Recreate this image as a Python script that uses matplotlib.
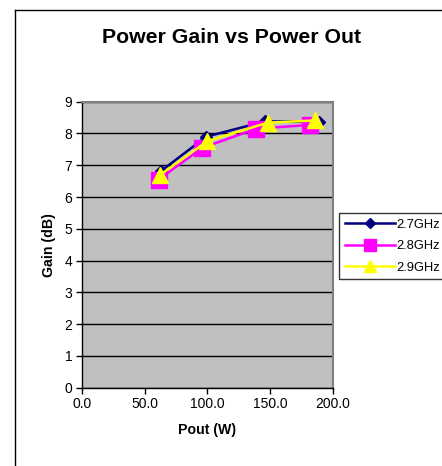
import matplotlib
matplotlib.use('Agg')
import matplotlib.pyplot as plt
from matplotlib.lines import Line2D

plt.rcParams['font.family'] = ['Liberation Sans', 'DejaVu Sans']

# Data
pout_27 = [63, 99, 146, 189]
gain_27 = [6.82, 7.90, 8.38, 8.37]
pout_28 = [61, 96, 139, 182]
gain_28 = [6.55, 7.55, 8.15, 8.27]
pout_29 = [62, 100, 148, 186]
gain_29 = [6.69, 7.76, 8.34, 8.41]
labels = ['2.7GHz', '2.8GHz', '2.9GHz']
xticks = [0, 50, 100, 150, 200]
yticks = list(range(0, 10))

fig = plt.figure(figsize=(4.42, 4.66), dpi=100)
ax = fig.add_axes([0.1855, 0.168, 0.5679, 0.6138])
ax.set_facecolor('#C0C0C0')

ax.plot(pout_27, gain_27, color='#000080', lw=1.8, marker='D', ms=6.5,
        label=labels[0], zorder=3)
ax.plot(pout_28, gain_28, color='#FF00FF', lw=1.8, marker='s', ms=11.5,
        label=labels[1], zorder=4)
ax.plot(pout_29, gain_29, color='#FFFF00', lw=1.8, marker='^', ms=12,
        label=labels[2], zorder=5)

ax.set_xlim(0, 200)
ax.set_ylim(0, 9)
ax.set_xticks(xticks)
ax.set_xticklabels(['%.1f' % v for v in xticks])
ax.set_yticks(yticks)
ax.yaxis.grid(True, color='black', lw=1)
ax.set_axisbelow(True)
ax.tick_params(labelsize=10, length=4, width=1, color='black', pad=3)

for s in ['top', 'right']:
    ax.spines[s].set_color('#808080')
    ax.spines[s].set_linewidth(1.5)
for s in ['left', 'bottom']:
    ax.spines[s].set_color('black')
    ax.spines[s].set_linewidth(1)

ax.set_xlabel('Pout (W)', fontsize=10.2, fontweight='bold', labelpad=8)
ax.set_ylabel('Gain (dB)', fontsize=10.2, fontweight='bold', labelpad=6)

fig.text(0.525, 0.919, 'Power Gain vs Power Out', ha='center', va='center',
         fontsize=15.3, fontweight='bold')

# outer chart frame (left and top edges visible)
fig.add_artist(Line2D([15 / 442, 15 / 442], [0, 1 - 10 / 466], color='black', lw=1))
fig.add_artist(Line2D([15 / 442, 1], [1 - 10 / 466, 1 - 10 / 466], color='black', lw=1))

leg = fig.legend(loc='upper left', bbox_to_anchor=(339 / 442, 1 - 213 / 466),
                 fontsize=9.3, frameon=True, fancybox=False, handlelength=3.9,
                 borderpad=0.45, labelspacing=0.72, handletextpad=0.1,
                 borderaxespad=0)
leg.get_frame().set_edgecolor('black')
leg.get_frame().set_linewidth(1)
for h in leg.legend_handles:
    h.set_markersize(h.get_markersize() * 0.72)

fig.savefig('out.png', dpi=100, facecolor='white')
